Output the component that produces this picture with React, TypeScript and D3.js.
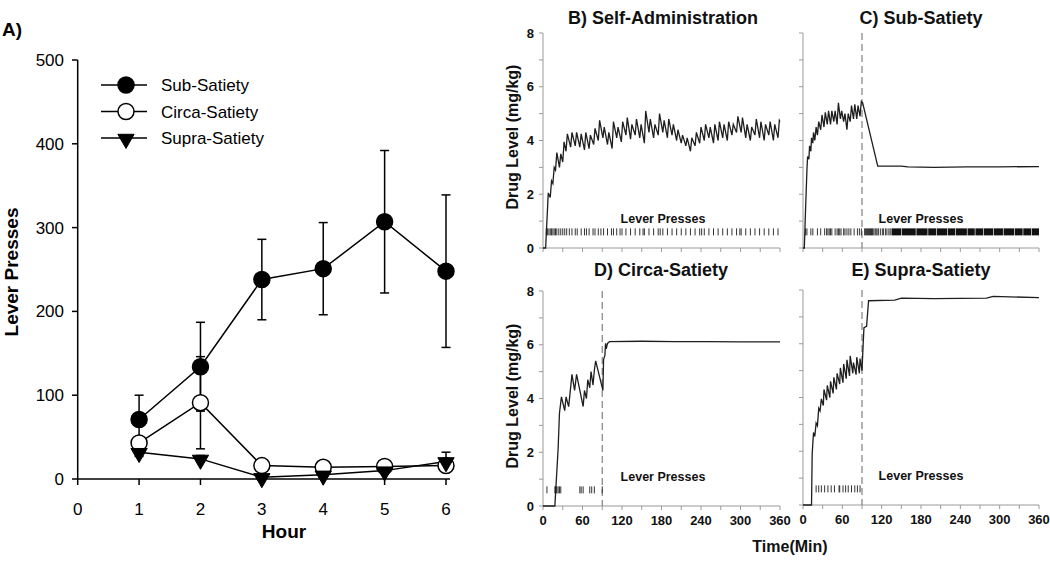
import React from "react";
import * as d3 from "d3";

// ---------- Panel A data ----------
const hours = [1, 2, 3, 4, 5, 6];
const subMean = [71, 134, 238, 251, 307, 248];
const subErr = [29, 53, 48, 55, 85, 91];
const circaMean = [43, 91, 16, 14, 15, 16];
const circaErr = [5, 55, 3, 6, 3, 5];
const supraMean = [32, 24, 2, 5, 10, 21];
const supraErr = [5, 4, 2, 3, 3, 11];
const hourTicks = [0, 1, 2, 3, 4, 5, 6];
const pressTicks = [0, 100, 200, 300, 400, 500];
const legendNames = ["Sub-Satiety", "Circa-Satiety", "Supra-Satiety"];

// ---------- Panels B-E data: [minute, drug level] ----------
const selfAdmin: [number, number][] = [
  [0, 0], [4, 0], [8, 2.05], [11, 1.88], [13, 2.5], [15, 2.4], [17, 3.0], [19, 2.9], [21, 3.55], [25, 3.0],
  [27, 3.5], [30, 3.2], [32, 3.95], [35, 3.6], [37, 4.25], [42, 3.75], [44, 4.3], [49, 3.8], [51, 4.3],
  [56, 3.75], [58, 4.25], [63, 3.65], [65, 4.3], [70, 3.7], [72, 4.2], [77, 3.85], [79, 4.45], [84, 4.0],
  [86, 4.75], [91, 4.1], [93, 4.5], [98, 3.85], [100, 4.3], [105, 3.7], [107, 4.7], [112, 4.1], [114, 4.5],
  [119, 3.95], [121, 4.7], [126, 4.2], [128, 4.85], [133, 4.05], [135, 4.6], [140, 4.2], [142, 4.8],
  [147, 4.1], [149, 4.6], [154, 3.9], [156, 5.1], [161, 4.3], [163, 4.8], [168, 4.1], [170, 4.6],
  [175, 4.2], [177, 5.0], [182, 4.3], [184, 4.75], [189, 4.1], [191, 4.8], [196, 4.2], [198, 4.6],
  [203, 4.0], [205, 4.4], [210, 3.9], [212, 4.2], [217, 3.8], [219, 4.1], [224, 3.6], [226, 4.1],
  [231, 3.8], [233, 4.3], [238, 3.9], [240, 4.5], [245, 4.0], [247, 4.6], [252, 4.1], [254, 4.5],
  [259, 3.9], [261, 4.6], [266, 4.0], [268, 4.7], [273, 4.1], [275, 4.6], [280, 4.0], [282, 4.7],
  [287, 4.2], [289, 4.6], [294, 4.3], [296, 4.9], [301, 4.3], [303, 4.85], [308, 4.1], [310, 4.6],
  [315, 4.0], [317, 4.5], [322, 4.2], [324, 4.8], [329, 4.1], [331, 4.7], [336, 4.0], [338, 4.6],
  [343, 4.2], [345, 4.7], [350, 4.0], [352, 4.6], [357, 4.1], [359, 4.75], [360, 4.7],
];
const subSatiety: [number, number][] = [
  [0, 0], [2, 0], [4, 1.5], [6, 2.9], [7, 3.4], [9, 3.3], [10, 3.8], [12, 3.6], [13, 4.1], [15, 3.9],
  [16, 4.3], [18, 4.0], [20, 4.5], [22, 4.2], [24, 4.7], [27, 4.4], [29, 4.95], [32, 4.5], [34, 5.05],
  [37, 4.6], [39, 5.1], [42, 4.6], [44, 5.1], [47, 4.7], [49, 5.1], [52, 4.6], [54, 5.4], [57, 4.8],
  [59, 5.1], [62, 4.7], [64, 5.0], [67, 4.4], [69, 5.0], [72, 4.7], [74, 5.3], [77, 4.8], [79, 5.35],
  [82, 4.8], [84, 5.3], [87, 4.9], [89, 5.45], [91, 5.4], [114, 3.05], [150, 3.05], [160, 3.02],
  [200, 3.0], [250, 3.02], [300, 3.02], [360, 3.03],
];
const circaSatiety: [number, number][] = [
  [0, 0], [18, 0], [23, 2.15], [25, 3.45], [28, 4.06], [33, 3.55], [35, 4.06], [39, 3.7], [44, 4.9],
  [48, 4.3], [51, 4.9], [61, 3.7], [63, 4.3], [66, 4.0], [68, 4.7], [71, 4.4], [73, 5.0], [76, 4.5],
  [78, 5.05], [80, 5.4], [91, 4.3], [92, 5.45], [94, 5.6], [95, 6.05], [96, 5.85], [98, 6.05], [101, 6.12],
  [150, 6.13], [200, 6.12], [250, 6.12], [300, 6.11], [360, 6.11],
];
const supraSatiety: [number, number][] = [
  [0, 0], [13, 0], [14, 1.9], [16, 2.7], [18, 2.55], [20, 3.05], [22, 2.95], [24, 3.6], [26, 3.5],
  [28, 3.95], [31, 3.7], [32, 4.3], [36, 3.9], [37, 4.45], [41, 4.0], [42, 4.6], [46, 4.15], [47, 4.75],
  [51, 4.3], [52, 4.9], [56, 4.5], [57, 5.1], [61, 4.55], [62, 5.25], [66, 4.7], [67, 5.4], [71, 4.8],
  [72, 5.55], [76, 4.9], [77, 5.3], [81, 4.85], [82, 5.5], [86, 4.9], [87, 5.45], [90, 5.0], [92, 6.1],
  [93, 6.6], [97, 6.65], [100, 7.6], [140, 7.62], [150, 7.7], [200, 7.68], [280, 7.7], [290, 7.76], [360, 7.72],
];

// lever press times (min)
const selfAdminPresses = [5, 7, 9, 11, 13, 15, 17, 19, 21, 24, 27, 30, 33, 36, 40, 44, 49, 52, 58, 63, 66, 70, 76,
  79, 84, 88, 92, 98, 104, 107, 112, 117, 120, 126, 133, 140, 147, 152, 154, 161, 168, 175, 178, 182, 189,
  196, 203, 210, 217, 224, 231, 238, 241, 245, 252, 259, 266, 273, 280, 287, 294, 299, 301, 308, 315, 322,
  329, 336, 343, 350, 357];
const subPresses = [4, 6, 12, 15, 22, 27, 33, 36, 38, 40, 42, 44, 49, 52, 54, 56, 58, 62, 64, 67, 70, 73, 78,
  83, 86, 89, 94, 95.5, 97, 98.5, 100, 101.5, 103, 104.5, 106, 108, 110, 111.5, 113, 115, 118, 121, 123,
  126, 128, 131, 133];
const subPressBursts: [number, number][] = [
  [135, 150], [151, 172], [173, 190], [191, 203], [204, 220], [221, 232], [233, 250], [251, 262],
  [263, 275], [276, 290], [291, 305], [306, 322], [323, 335], [336, 348], [349, 360],
];
const circaPresses = [6, 18, 19, 20, 21, 23, 25, 27, 56, 58, 61, 71, 74, 78, 90];
const supraPresses = [20, 24, 28, 33, 38, 43, 48, 55, 56, 61, 65, 69, 74, 79, 83, 87];

const minuteTicks = [0, 60, 120, 180, 240, 300, 360];
const minorMinuteTicks = [0, 30, 60, 90, 120, 150, 180, 210, 240, 270, 300, 330, 360];
const levelTicks = [0, 1, 2, 3, 4, 5, 6, 7, 8];
const levelLabels = [0, 2, 4, 6, 8];

const FONT = "'Liberation Sans', Arial, sans-serif";
const AXIS_GREY = "#9a9a9a";

type PanelProps = {
  x0: number; x1: number; yTop: number; yBot: number;
  series: [number, number][]; presses: number[]; bursts?: [number, number][];
  title: string; titleX: number; titleY: number;
  yLabels: boolean; xLabels: boolean; dashed: boolean;
  pressLabelX: number; pressLabelY: number; yTitleY?: number;
};

function DrugPanel(p: PanelProps) {
  const x = d3.scaleLinear().domain([0, 360]).range([p.x0, p.x1]);
  const y = d3.scaleLinear().domain([0, 8]).range([p.yBot, p.yTop]);
  const line = d3.line<[number, number]>().x((d) => x(d[0])).y((d) => y(d[1]));
  const ry = y(0.6);
  return (
    <g>
      <text x={p.titleX} y={p.titleY} textAnchor="middle" fontFamily={FONT} fontWeight="bold" fontSize={18} fill="#111">{p.title}</text>
      {/* axes */}
      <line x1={p.x0} x2={p.x0} y1={y(8)} y2={y(0)} stroke={AXIS_GREY} strokeWidth={1} />
      <line x1={p.x0} x2={p.x1} y1={y(0)} y2={y(0)} stroke={AXIS_GREY} strokeWidth={1} />
      {levelTicks.map((t) => (
        <line key={"yt" + t} x1={p.x0 - 4} x2={p.x0} y1={y(t)} y2={y(t)} stroke={AXIS_GREY} strokeWidth={1} />
      ))}
      {minorMinuteTicks.map((t) => (
        <line key={"xt" + t} x1={x(t)} x2={x(t)} y1={y(0)} y2={y(0) + 4} stroke={AXIS_GREY} strokeWidth={1} />
      ))}
      {p.yLabels && levelLabels.map((t) => (
        <text key={"yl" + t} x={p.x0 - 9} y={y(t) + 4.5} textAnchor="end" fontFamily={FONT} fontWeight="bold" fontSize={13} fill="#111">{t}</text>
      ))}
      {p.yLabels && (
        <text transform={`translate(${p.x0 - 25},${p.yTitleY}) rotate(-90)`} textAnchor="middle" fontFamily={FONT} fontWeight="bold" fontSize={16} fill="#111">Drug Level (mg/kg)</text>
      )}
      {p.xLabels && minuteTicks.map((t) => (
        <text key={"xl" + t} x={x(t)} y={y(0) + 19} textAnchor="middle" fontFamily={FONT} fontWeight="bold" fontSize={13} fill="#111">{t}</text>
      ))}
      {p.dashed && (
        <line x1={x(90)} x2={x(90)} y1={y(8)} y2={y(0)} stroke="#808080" strokeWidth={1.2} strokeDasharray="7,4" />
      )}
      {/* presses */}
      <text x={p.pressLabelX} y={p.pressLabelY} textAnchor="middle" fontFamily={FONT} fontWeight="bold" fontSize={12.5} fill="#111">Lever Presses</text>
      {p.presses.map((t, i) => (
        <line key={"pr" + i} x1={x(t)} x2={x(t)} y1={ry - 3.5} y2={ry + 3.5} stroke="#333" strokeWidth={1} />
      ))}
      {(p.bursts || []).map((b, i) => (
        <rect key={"bu" + i} x={x(b[0])} y={ry - 3.5} width={x(b[1]) - x(b[0])} height={7} fill="#111" />
      ))}
      <path d={line(p.series) || ""} fill="none" stroke="#1e1e1e" strokeWidth={1.3} strokeLinejoin="miter" />
    </g>
  );
}

function PanelA() {
  const x = d3.scaleLinear().domain([0, 6]).range([77.7, 446]);
  const y = d3.scaleLinear().domain([0, 500]).range([479, 60]);
  const line = d3.line<number>().x((_, i) => x(hours[i])).y((d) => y(d));
  const tri = d3.symbol().type(d3.symbolTriangle).size(115)() || "";
  const series = [
    { mean: subMean, err: subErr, kind: "filled" },
    { mean: circaMean, err: circaErr, kind: "open" },
    { mean: supraMean, err: supraErr, kind: "tri" },
  ];
  const marker = (kind: string, cx: number, cy: number, key: string) =>
    kind === "tri" ? (
      <path key={key} d={tri} transform={`translate(${cx},${cy + 1}) rotate(180)`} fill="#000" stroke="#000" strokeWidth={1} />
    ) : (
      <circle key={key} cx={cx} cy={cy} r={8} fill={kind === "filled" ? "#000" : "#fff"} stroke="#000" strokeWidth={1.5} />
    );
  return (
    <g>
      <text x={2} y={36} fontFamily={FONT} fontWeight="bold" fontSize={19} fill="#000">A)</text>
      <line x1={77.7} x2={77.7} y1={y(500)} y2={y(0)} stroke="#000" strokeWidth={1.5} />
      <line x1={77.7} x2={450} y1={y(0)} y2={y(0)} stroke="#000" strokeWidth={1.5} />
      {pressTicks.map((t) => (
        <g key={"ya" + t}>
          <line x1={72} x2={77.7} y1={y(t)} y2={y(t)} stroke="#000" strokeWidth={1.5} />
          <text x={64} y={y(t) + 6} textAnchor="end" fontFamily={FONT} fontSize={17} fill="#000">{t}</text>
        </g>
      ))}
      {hourTicks.map((t) => (
        <g key={"xa" + t}>
          <line x1={x(t)} x2={x(t)} y1={y(0)} y2={y(0) + 6} stroke="#000" strokeWidth={1.5} />
          <text x={x(t)} y={515} textAnchor="middle" fontFamily={FONT} fontSize={17} fill="#000">{t}</text>
        </g>
      ))}
      <text x={284} y={538} textAnchor="middle" fontFamily={FONT} fontWeight="bold" fontSize={19} fill="#000">Hour</text>
      <text transform="translate(18,272) rotate(-90)" textAnchor="middle" fontFamily={FONT} fontWeight="bold" fontSize={19} fill="#000">Lever Presses</text>
      {series.map((s, si) =>
        s.mean.map((m, i) => (
          <g key={`e${si}-${i}`} stroke="#000" strokeWidth={1.5}>
            <line x1={x(hours[i])} x2={x(hours[i])} y1={y(m + s.err[i])} y2={y(m - s.err[i])} />
            <line x1={x(hours[i]) - 4.5} x2={x(hours[i]) + 4.5} y1={y(m + s.err[i])} y2={y(m + s.err[i])} />
            <line x1={x(hours[i]) - 4.5} x2={x(hours[i]) + 4.5} y1={y(m - s.err[i])} y2={y(m - s.err[i])} />
          </g>
        ))
      )}
      {series.map((s, si) => (
        <path key={"l" + si} d={line(s.mean) || ""} fill="none" stroke="#000" strokeWidth={1.5} />
      ))}
      {series.map((s, si) => s.mean.map((m, i) => marker(s.kind, x(hours[i]), y(m), `m${si}-${i}`)))}
      {/* legend */}
      {legendNames.map((n, i) => (
        <g key={"lg" + i}>
          <line x1={101} x2={147} y1={85 + i * 26.5} y2={85 + i * 26.5} stroke="#000" strokeWidth={1.5} />
          {marker(series[i].kind, 126, 85 + i * 26.5, "lgm" + i)}
          <text x={161} y={85 + i * 26.5 + 6} fontFamily={FONT} fontSize={17} fill="#000">{n}</text>
        </g>
      ))}
    </g>
  );
}

export default function App() {
  return (
    <svg width={1050} height={572} style={{ position: "absolute", left: 0, top: 0, background: "#fff" }}>
      <rect x={0} y={0} width={1050} height={572} fill="#fff" />
      <PanelA />
      <DrugPanel x0={543} x1={780} yTop={33} yBot={248} series={selfAdmin} presses={selfAdminPresses}
        title="B) Self-Administration" titleX={663} titleY={24} yLabels={true} xLabels={false} dashed={false}
        pressLabelX={663} pressLabelY={223} yTitleY={137} />
      <DrugPanel x0={803} x1={1039} yTop={33} yBot={248} series={subSatiety} presses={subPresses} bursts={subPressBursts}
        title="C) Sub-Satiety" titleX={921} titleY={24} yLabels={false} xLabels={false} dashed={true}
        pressLabelX={921} pressLabelY={223} />
      <DrugPanel x0={543} x1={780} yTop={291} yBot={506} series={circaSatiety} presses={circaPresses}
        title="D) Circa-Satiety" titleX={661} titleY={276} yLabels={true} xLabels={true} dashed={true}
        pressLabelX={663} pressLabelY={481} yTitleY={396} />
      <DrugPanel x0={803} x1={1039} yTop={290} yBot={505} series={supraSatiety} presses={supraPresses}
        title="E) Supra-Satiety" titleX={921} titleY={276} yLabels={false} xLabels={true} dashed={true}
        pressLabelX={921} pressLabelY={480} />
      <text x={790} y={552} textAnchor="middle" fontFamily={FONT} fontWeight="bold" fontSize={16} fill="#111">Time(Min)</text>
    </svg>
  );
}
